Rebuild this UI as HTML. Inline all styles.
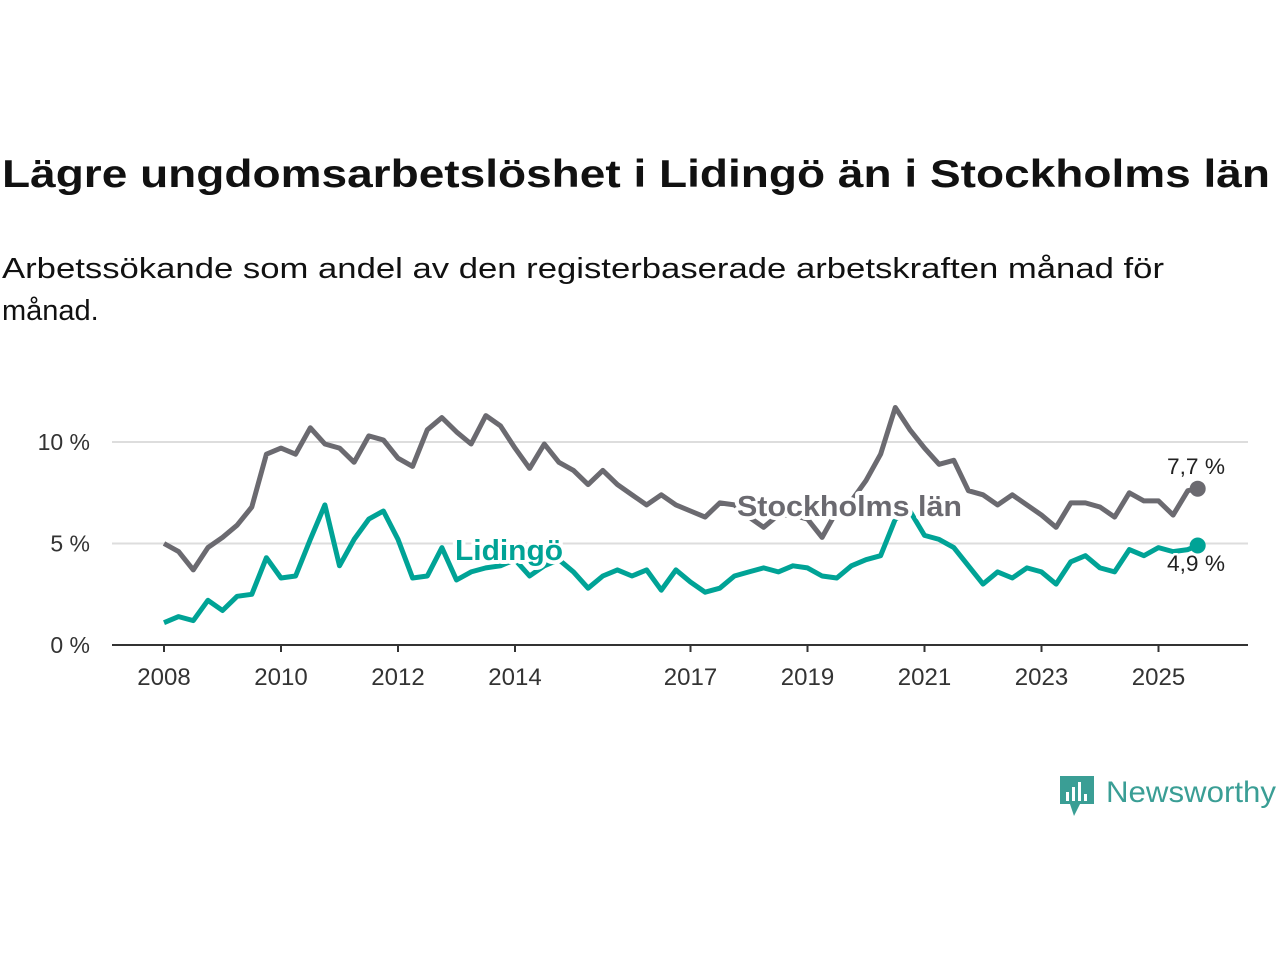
<!DOCTYPE html>
<html><head><meta charset="utf-8"><style>
body{margin:0;width:1280px;height:960px;background:#fff;font-family:"Liberation Sans",sans-serif;overflow:hidden;position:relative}
</style></head><body>
<svg width="1280" height="960" style="position:absolute;left:0;top:0">
<text x="2" y="187" font-size="39" font-weight="bold" fill="#111" textLength="1268" lengthAdjust="spacingAndGlyphs">Lägre ungdomsarbetslöshet i Lidingö än i Stockholms län</text>
<text x="2" y="278" font-size="29" fill="#111" textLength="1162" lengthAdjust="spacingAndGlyphs">Arbetssökande som andel av den registerbaserade arbetskraften månad för</text>
<text x="2" y="320" font-size="29" fill="#111">månad.</text>
<g id="grid"></g><g id="axis"></g><g id="lines"></g><g id="labels"></g>
<g>
<path d="M1060 776h34v28h-14l-6 12-4-12h-10z" fill="#3a9e95"/>
<rect x="1066" y="792" width="3" height="9" fill="#fff"/><rect x="1072" y="787" width="3" height="14" fill="#fff"/><rect x="1078" y="782" width="3" height="19" fill="#fff"/><rect x="1084" y="794" width="3" height="7" fill="#fff"/>
<text x="1106" y="802" font-size="30" fill="#3a9e95" textLength="170" lengthAdjust="spacingAndGlyphs">Newsworthy</text>
</g>
</svg>
<script>
const startYear = 2008;
const stockholm = [5.0,4.6,3.7,4.8,5.3,5.9,6.8,9.4,9.7,9.4,10.7,9.9,9.7,9.0,10.3,10.1,9.2,8.8,10.6,11.2,10.5,9.9,11.3,10.8,9.7,8.7,9.9,9.0,8.6,7.9,8.6,7.9,7.4,6.9,7.4,6.9,6.6,6.3,7.0,6.9,6.3,5.8,6.4,6.4,6.2,5.3,6.6,7.1,8.1,9.4,11.7,10.6,9.7,8.9,9.1,7.6,7.4,6.9,7.4,6.9,6.4,5.8,7.0,7.0,6.8,6.3,7.5,7.1,7.1,6.4,7.6,7.7];
const lidingo = [1.1,1.4,1.2,2.2,1.7,2.4,2.5,4.3,3.3,3.4,5.2,6.9,3.9,5.2,6.2,6.6,5.2,3.3,3.4,4.8,3.2,3.6,3.8,3.9,4.2,3.4,3.9,4.2,3.6,2.8,3.4,3.7,3.4,3.7,2.7,3.7,3.1,2.6,2.8,3.4,3.6,3.8,3.6,3.9,3.8,3.4,3.3,3.9,4.2,4.4,6.2,6.6,5.4,5.2,4.8,3.9,3.0,3.6,3.3,3.8,3.6,3.0,4.1,4.4,3.8,3.6,4.7,4.4,4.8,4.6,4.7,4.9];
const yTicks = [0,5,10];
const yTickLabels = ["0 %","5 %","10 %"];
const xTicks = [2008,2010,2012,2014,2017,2019,2021,2023,2025];
const NS="http://www.w3.org/2000/svg";
const x = t => 164 + (t - startYear) * 58.5;
const y = v => 645 - v * 20.3;
const tOf = i => i === stockholm.length-1 ? startYear + 17.67 : startYear + i*0.25;
function mk(tag, attrs, parent){const e=document.createElementNS(NS,tag);for(const k in attrs)e.setAttribute(k,attrs[k]);parent.appendChild(e);return e;}
const grid=document.getElementById('grid'), axis=document.getElementById('axis'), lines=document.getElementById('lines'), labels=document.getElementById('labels');
yTicks.forEach((v,i)=>{
  if(v>0){const g=mk('line',{x1:112,x2:1248,y1:y(v),y2:y(v),stroke:'#ddd','stroke-width':2},grid);
  
  }
  const t=mk('text',{x:90,y:y(v)+8,'font-size':23,fill:'#333','text-anchor':'end'},axis);
  t.textContent=yTickLabels[i];
  
  
});
const base=mk('line',{x1:112,x2:1248,y1:645,y2:645,stroke:'#333','stroke-width':2},axis);


xTicks.forEach(yr=>{
  mk('line',{x1:x(yr),x2:x(yr),y1:645,y2:652,stroke:'#333','stroke-width':2},axis);
  const t=mk('text',{x:x(yr),y:685,'font-size':24,fill:'#333','text-anchor':'middle'},axis);
  t.textContent=yr;
  
  
});
function series(data,color,name){
  const d=data.map((v,i)=>(i?'L':'M')+x(tOf(i)).toFixed(1)+' '+y(v).toFixed(1)).join(' ');
  const p=mk('path',{d:d,fill:'none',stroke:color,'stroke-width':5,'stroke-linejoin':'round'},lines);
  
  
  const n=data.length-1;
  const c=mk('circle',{cx:x(tOf(n)),cy:y(data[n]),r:8,fill:color},lines);
  
  
}
series(stockholm,'#6b6a70','stockholm');
series(lidingo,'#00a396','lidingo');
function lab(txt,xx,yy,color,bold,name,size,len){
  const a={x:xx,y:yy,'font-size':size,fill:color,'font-weight':bold?'bold':'normal',stroke:'#fff','stroke-width':bold?8:5,'paint-order':'stroke','stroke-linejoin':'round'};
  if(len){a.textLength=len;a.lengthAdjust='spacingAndGlyphs';}
  const t=mk('text',a,labels);
  t.textContent=txt;
  
  
}
lab('Stockholms län',737,516,'#6b6a70',true,'stockholm-label',29,225);
lab('Lidingö',455,560,'#00a396',true,'lidingo-label',29,108);
lab('7,7 %',1167,474,'#222',false,'stockholm-end-value',22,58);
lab('4,9 %',1167,571,'#222',false,'lidingo-end-value',22,58);
</script>
</body></html>
